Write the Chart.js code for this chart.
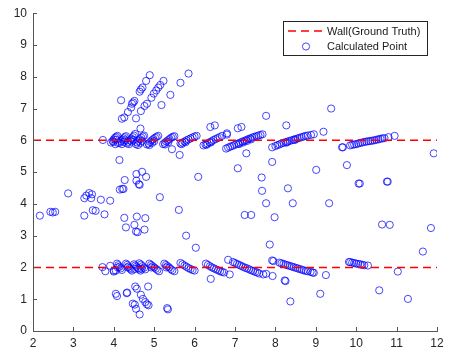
<!DOCTYPE html>
<html><head><meta charset="utf-8">
<script src="https://cdn.jsdelivr.net/npm/chart.js@4/dist/chart.umd.min.js"></script>
<style>html,body{margin:0;padding:0;background:#fff;}#wrap{width:449px;height:352px;}</style>
</head><body><div id="wrap"><canvas id="c" width="449" height="352"></canvas></div>
<script>
// ---- data ----
const xTicks = [2,3,4,5,6,7,8,9,10,11,12];
const yTicks = [0,1,2,3,4,5,6,7,8,9,10];
const wallYs = [6, 2];
const wallXRange = [2, 12];
const legendLabels = ["Wall(Ground Truth)", "Calculated Point"];

const scatterLeft = [[2.17,3.63],[2.43,3.75],[2.49,3.73],[2.55,3.75],[2.87,4.33],[3.27,4.18],[3.32,4.26],[3.39,4.34],[3.46,4.30],[3.44,4.18],[3.27,3.63],[3.48,3.80],[3.55,3.78],[3.68,4.13],[3.77,3.67],[3.91,4.10],[3.73,6.01],[4.14,5.38],[4.15,4.45],[4.21,4.47],[4.24,4.47],[4.27,4.75],[4.56,4.94],[4.70,5.01],[4.80,4.85],[4.56,4.73],[4.64,4.60],[4.62,4.62],[4.26,3.56],[4.30,3.26],[4.57,3.60],[4.51,3.34],[4.55,3.13],[4.59,3.11],[4.78,3.55],[4.76,3.19],[5.14,4.21],[5.44,5.72],[5.63,5.54],[5.61,3.81],[5.79,3.00],[6.09,4.85],[6.03,2.62]];

const upperDiagonal = [[4.18,7.26],[4.20,6.68],[4.26,6.72],[4.35,6.89],[4.43,7.03],[4.45,7.15],[4.48,7.19],[4.51,7.24],[4.55,6.69],[4.66,6.37],[4.67,6.92],[4.76,7.08],[4.82,7.15],[4.93,7.34],[4.99,7.47],[5.05,7.57],[5.10,7.66],[5.15,7.74],[5.23,7.87],[5.18,7.11],[5.40,7.43],[4.64,7.53],[4.67,7.60],[4.71,7.66],[4.80,7.87],[4.89,8.05],[5.65,7.81],[5.85,8.10]];

const upperBand = [[3.93,5.93],[3.97,5.98],[4.0,6.03],[4.03,6.08],[4.06,6.11],[4.09,6.14],[4.04,5.88],[4.1,5.92],[3.99,5.95],[4.05,6.02],
[4.15,5.92],[4.18,5.97],[4.21,6.02],[4.24,6.06],[4.27,6.1],[4.3,6.13],[4.2,5.88],[4.25,5.95],[4.28,6.0],
[4.33,5.9],[4.36,5.95],[4.4,6.0],[4.43,6.05],[4.47,6.1],[4.5,6.15],[4.53,6.2],[4.38,5.88],[4.44,5.96],[4.48,6.02],
[4.55,5.88],[4.58,5.93],[4.61,5.98],[4.65,6.03],[4.68,6.08],[4.72,6.12],[4.75,6.15],[4.6,5.85],[4.66,5.92],[4.7,5.98],
[4.82,5.87],[4.86,5.9],[4.9,5.95],[4.94,6.0],[4.98,6.04],[5.02,6.08],[5.06,6.11],[5.1,6.14],[4.88,5.85],[4.95,5.92],[5.0,5.97],
[5.22,5.88],[5.26,5.92],[5.3,5.96],[5.34,6.0],[5.38,6.04],[5.42,6.08],[5.46,6.11],[5.5,6.13],[5.27,5.87],[5.35,5.94],
[5.65,5.9],[5.7,5.93],[5.75,5.96],[5.8,6.0],[5.85,6.03],[5.9,6.06],[5.95,6.09],[6.0,6.12],[6.05,6.14],[5.68,5.88],[5.78,5.94],
[6.22,5.84],[6.27,5.87],[6.32,5.9],[6.37,5.94],[6.42,5.97],[6.47,6.01],[6.52,6.04],[6.57,6.07],[6.62,6.1],[6.68,6.14],[6.8,6.18],[6.3,5.86],[6.4,5.93],
[6.78,5.74],[6.83,5.77],[6.88,5.8],[6.93,5.82],[6.98,5.85],[7.03,5.88],[7.08,5.9],[7.13,5.93],[7.18,5.96],[7.23,5.98],[7.28,6.01],[7.33,6.04],[7.38,6.06],[7.43,6.09],[7.48,6.11],[7.53,6.13],[7.58,6.15],[7.63,6.17],[7.68,6.19],[7.1,5.88],[7.2,5.93],[7.3,5.98],[7.4,6.03],
[7.92,5.78],[8.0,5.82],[8.05,5.85],[8.1,5.87],[8.15,5.9],[8.2,5.92],[8.25,5.94],[8.3,5.96],[8.35,5.98],[8.4,6.0],[8.45,6.02],[8.5,6.04],[8.55,6.06],[8.6,6.08],[8.65,6.1],[8.7,6.12],[8.75,6.14],[8.8,6.15],[8.88,6.17],[8.95,6.19],[8.28,5.93],[8.48,6.01],
[9.65,5.78],[9.67,5.78],[9.85,5.84],[9.9,5.86],[9.95,5.87],[10.0,5.88],[10.05,5.9],[10.1,5.92],[10.15,5.93],[10.2,5.95],[10.25,5.96],[10.3,5.97],[10.35,5.98],[10.4,5.99],[10.45,6.0],[10.5,6.02],[10.55,6.03],[10.6,6.05],[10.65,6.06],[10.7,6.07],[10.8,6.1],[10.95,6.14]];

const lowerBand = [[3.72,2.01],[3.79,1.88],[3.91,2.05],[4.0,1.9],
[4.08,2.12],[4.11,2.07],[4.14,2.02],[4.17,1.97],[4.2,1.92],[4.05,1.9],[4.0,1.87],[4.1,2.0],
[4.3,2.12],[4.33,2.08],[4.36,2.03],[4.39,1.98],[4.42,1.94],[4.45,1.9],[4.34,2.0],
[4.5,2.1],[4.53,2.06],[4.56,2.02],[4.6,1.98],[4.63,1.94],[4.66,1.9],[4.52,1.95],
[4.63,2.13],[4.67,2.09],[4.71,2.04],[4.75,1.99],[4.78,1.94],[4.69,1.96],
[4.88,2.12],[4.92,2.08],[4.96,2.04],[5.0,2.0],[5.04,1.96],[5.08,1.92],[5.12,1.88],[4.93,2.0],
[5.25,2.12],[5.29,2.08],[5.33,2.04],[5.37,2.0],[5.41,1.95],[5.45,1.91],[5.5,1.88],[5.3,2.0],
[5.65,2.14],[5.7,2.1],[5.75,2.06],[5.8,2.02],[5.85,1.98],[5.9,1.95],[5.95,1.92],[6.0,1.9],
[6.28,2.12],[6.33,2.08],[6.38,2.04],[6.43,2.0],[6.48,1.97],[6.53,1.94],[6.58,1.91],[6.63,1.88],[6.68,1.86],[6.73,1.84],
[6.83,2.24],[6.95,2.17],[7.0,2.14],[7.05,2.11],[7.1,2.08],[7.15,2.05],[7.2,2.02],[7.25,1.99],[7.3,1.97],[7.35,1.94],[7.4,1.91],[7.45,1.89],[7.5,1.86],[7.55,1.84],[7.6,1.81],[7.7,1.78],
[7.92,2.22],[7.95,2.2],[8.1,2.15],[8.15,2.13],[8.2,2.11],[8.25,2.09],[8.3,2.07],[8.35,2.05],[8.4,2.03],[8.45,2.01],[8.5,1.99],[8.55,1.97],[8.6,1.95],[8.65,1.93],[8.7,1.91],[8.75,1.89],[8.8,1.88],[8.87,1.86],[8.92,1.84],[8.95,1.83],
[9.82,2.17],[9.85,2.17],[9.9,2.15],[9.95,2.14],[10.0,2.12],[10.05,2.11],[10.1,2.1],[10.15,2.08],[10.2,2.07]];

const lowerLeft = [[4.05,1.17],[4.08,1.10],[4.32,1.19],[4.33,1.21],[4.47,0.86],[4.52,0.83],[4.55,0.70],[4.64,0.52],[4.53,1.40],[4.57,1.33],[4.67,1.14],[4.72,1.01],[4.78,0.91],[4.82,0.84],[4.86,0.81],[4.85,1.40],[5.32,0.72],[5.34,0.68]];

const scatterRight = [[6.39,6.42],[6.50,6.47],[6.80,6.22],[7.07,6.38],[7.16,6.42],[7.77,6.77],[8.27,6.47],[9.38,7.00],[9.19,6.27],[7.07,5.12],[7.28,5.59],[7.66,4.83],[7.67,4.41],[7.77,4.02],[7.92,5.32],[8.31,4.49],[8.43,4.02],[7.98,3.58],[7.24,3.65],[7.40,3.65],[9.01,5.07],[9.33,4.02],[9.77,5.22],[10.06,4.64],[10.09,4.64],[10.76,4.70],[10.78,4.70],[10.64,3.35],[10.83,3.34],[11.85,3.24],[11.92,5.59],[11.65,2.50],[11.03,1.87],[11.28,1.01],[10.57,1.28],[10.29,2.06],[9.11,1.17],[9.25,1.76],[8.37,0.93],[8.23,1.59],[8.25,1.57],[7.93,1.73],[7.86,2.72],[7.77,1.80],[6.87,1.78],[6.40,1.64]];

// ---- build ----
const toPts = a => a.map(p => ({x:p[0], y:p[1]}));
const allPts = [].concat(toPts(scatterLeft), toPts(upperDiagonal), toPts(upperBand), toPts(lowerBand), toPts(lowerLeft), toPts(scatterRight));
const RED = '#ff0000';
const BLUE = 'rgba(0,0,255,0.72)';
const FONT = '"Liberation Sans", Arial, sans-serif';

const datasets = wallYs.map(y => ({
  type:'line', data: wallXRange.map(x => ({x, y})), borderColor: RED, borderWidth: 1.6,
  borderDash:[8,5], pointRadius:0, fill:false
}));
datasets.push({type:'scatter', data: allPts, pointStyle:'circle', pointRadius:3.6,
  borderColor: BLUE, backgroundColor:'rgba(0,0,0,0)', borderWidth:1});

const tickPlugin = {
  id:'tickPlugin',
  afterDraw(chart){
    const ctx = chart.ctx, xs = chart.scales.x, ys = chart.scales.y, a = chart.chartArea;
    ctx.save();
    ctx.strokeStyle = '#555'; ctx.lineWidth = 1;
    ctx.beginPath();
    xTicks.forEach(v => { const px = Math.round(xs.getPixelForValue(v)) + 0.5; ctx.moveTo(px, a.bottom); ctx.lineTo(px, a.bottom - 4); });
    yTicks.forEach(v => { const py = Math.round(ys.getPixelForValue(v)) + 0.5; ctx.moveTo(a.left, py); ctx.lineTo(a.left + 4, py); });
    ctx.stroke();
    // legend
    const bx = 283.5, by = 21.5, bw = 144, bh = 34;
    ctx.fillStyle = '#fff'; ctx.fillRect(bx, by, bw, bh);
    ctx.strokeStyle = '#262626'; ctx.lineWidth = 1; ctx.strokeRect(bx, by, bw, bh);
    ctx.strokeStyle = RED; ctx.lineWidth = 1.6; ctx.setLineDash([8,5]);
    ctx.beginPath(); ctx.moveTo(288, 31); ctx.lineTo(324, 31); ctx.stroke();
    ctx.setLineDash([]);
    ctx.strokeStyle = BLUE; ctx.lineWidth = 1;
    ctx.beginPath(); ctx.arc(306, 46.5, 3.6, 0, Math.PI*2); ctx.stroke();
    ctx.fillStyle = '#1a1a1a'; ctx.font = '11px ' + FONT; ctx.textBaseline = 'middle'; ctx.textAlign = 'left';
    ctx.fillText(legendLabels[0], 327, 31.5);
    ctx.fillText(legendLabels[1], 327, 47);
    ctx.restore();
  }
};

new Chart(document.getElementById('c'), {
  data:{ datasets },
  options:{
    responsive:false, animation:false, devicePixelRatio:1,
    layout:{ padding:{ top:12, right:12, left:0, bottom:0 } },
    plugins:{ legend:{display:false}, tooltip:{enabled:false} },
    scales:{
      x:{ type:'linear', min:2, max:12,
        afterBuildTicks: s => { s.ticks = xTicks.map(v => ({value:v})); },
        afterFit: s => { s.height = 21; },
        grid:{ display:false, drawTicks:false }, border:{ display:true, color:'#555', width:1 },
        ticks:{ padding:5, font:{ family:FONT, size:12 }, color:'#262626', maxRotation:0 } },
      y:{ type:'linear', min:0, max:10,
        afterBuildTicks: s => { s.ticks = yTicks.map(v => ({value:v})); },
        afterFit: s => { s.width = 33; },
        grid:{ display:false, drawTicks:false }, border:{ display:true, color:'#555', width:1 },
        ticks:{ padding:6, font:{ family:FONT, size:12 }, color:'#262626' } }
    }
  },
  plugins:[tickPlugin]
});
</script></body></html>
